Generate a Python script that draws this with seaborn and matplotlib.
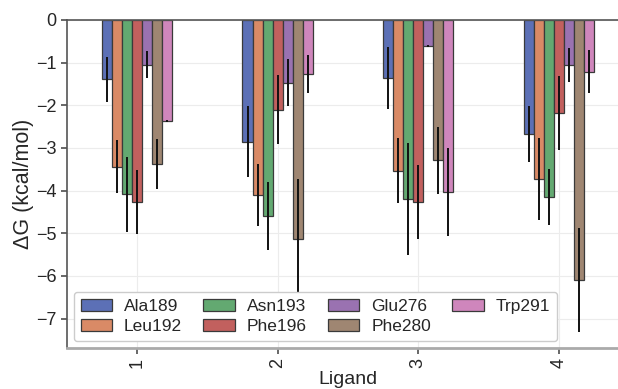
import matplotlib
matplotlib.use("Agg")
import matplotlib.pyplot as plt
import seaborn as sns
import pandas as pd
import numpy as np

ligands = ["1", "2", "3", "4"]
residues = ["Ala189", "Leu192", "Asn193", "Phe196", "Glu276", "Phe280", "Trp291"]

# values per residue, across ligands 1..4
ala189 = [-1.39, -2.85, -1.36, -2.68]
leu192 = [-3.44, -4.10, -3.53, -3.72]
asn193 = [-4.09, -4.59, -4.19, -4.15]
phe196 = [-4.27, -2.10, -4.26, -2.18]
glu276 = [-1.05, -1.47, -0.61, -1.06]
phe280 = [-3.37, -5.13, -3.29, -6.10]
trp291 = [-2.37, -1.26, -4.03, -1.21]

ala189_err = [0.53, 0.83, 0.72, 0.66]
leu192_err = [0.62, 0.73, 0.76, 0.96]
asn193_err = [0.88, 0.80, 1.31, 0.66]
phe196_err = [0.75, 0.80, 0.87, 0.86]
glu276_err = [0.32, 0.55, 0.02, 0.40]
phe280_err = [0.59, 1.40, 0.79, 1.22]
trp291_err = [0.03, 0.44, 1.03, 0.51]

vals = [ala189, leu192, asn193, phe196, glu276, phe280, trp291]
errs = [ala189_err, leu192_err, asn193_err, phe196_err, glu276_err, phe280_err, trp291_err]

colors = ["#5c70b6", "#d98a66", "#63a971", "#c2605e", "#9a72b1", "#9f8672", "#cf86bc"]

rows = []
for r, v, e in zip(residues, vals, errs):
    for l, vv, ee in zip(ligands, v, e):
        rows.append({"Ligand": l, "Residue": r, "dG": vv, "err": ee})
df = pd.DataFrame(rows)

sns.set_theme(style="whitegrid")
plt.rcParams["font.family"] = ["Liberation Sans", "DejaVu Sans"]
plt.rcParams["axes.unicode_minus"] = True

fig = plt.figure(figsize=(6.18, 3.89), dpi=100)
ax = fig.add_axes([0.108, 0.1054, 0.91, 0.8432])

sns.barplot(data=df, x="Ligand", y="dG", hue="Residue", hue_order=residues,
            order=ligands, palette=colors, width=0.5, errorbar=None,
            saturation=1, edgecolor="#3a3a3a", linewidth=0.9, ax=ax)

for cont, r in zip(ax.containers, residues):
    sub = df[df["Residue"] == r].set_index("Ligand").loc[ligands]
    xs = [p.get_x() + p.get_width() / 2 for p in cont.patches]
    ax.errorbar(xs, sub["dG"].values, yerr=sub["err"].values, fmt="none",
                ecolor="#111111", elinewidth=1.4, capsize=0, zorder=3)

ax.set_ylim(-7.69, 0)
ax.set_xlim(-0.5, 3.5)
ax.set_yticks(range(-7, 1))
ax.set_ylabel("ΔG (kcal/mol)", fontsize=15.5, labelpad=1)
ax.set_xlabel("Ligand", fontsize=14, labelpad=2)
ax.tick_params(axis="x", labelrotation=90, labelsize=13, bottom=True, length=4, color="#555555")
ax.tick_params(axis="y", labelsize=13, left=True, length=4, color="#555555")
ax.grid(True, color="#ececec", linewidth=0.8)

for s in ["left", "top"]:
    ax.spines[s].set_color("#555555")
    ax.spines[s].set_linewidth(1.2)
ax.spines["bottom"].set_color("#aaaaaa")
ax.spines["bottom"].set_linewidth(2.0)
ax.spines["right"].set_visible(False)

leg = ax.legend(ncol=4, loc="lower left", fontsize=12.5, frameon=True,
                bbox_to_anchor=(0.0, 0.0), borderaxespad=0.4,
                handlelength=1.8, handletextpad=0.7, columnspacing=1.22,
                labelspacing=0.3)
leg.get_frame().set_alpha(1.0)
leg.set_zorder(10)

fig.savefig("out.png", dpi=100)
